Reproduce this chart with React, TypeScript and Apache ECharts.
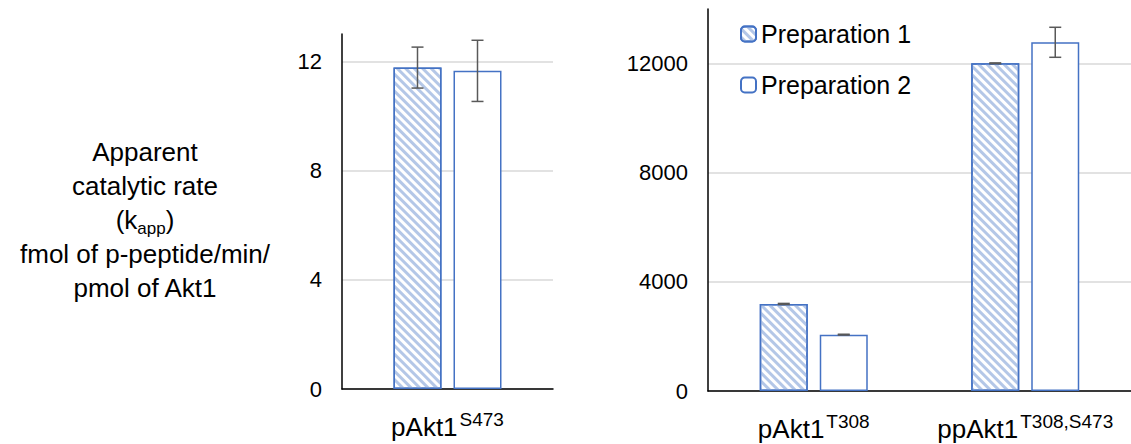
import React, { useEffect, useRef } from "react";
import * as echarts from "echarts";

const seriesNames = ["Preparation 1", "Preparation 2"];

const leftCategories = ["{m|pAkt1}{s|S473}"];
const leftPrep1 = [11.77];
const leftPrep2 = [11.65];
const leftErr1 = [0.75];
const leftErr2 = [1.12];
const leftTicks = [0, 4, 8, 12];

const rightCategories = ["{m|pAkt1}{s|T308}", "{m|ppAkt1}{s|T308,S473}"];
const rightPrep1 = [3190, 12010];
const rightPrep2 = [2065, 12780];
const rightErr1 = [20, 15];
const rightErr2 = [15, 550];
const rightTicks = [0, 4000, 8000, 12000];

const BAR_WIDTH = 48;
const BAR_GAP = 0.25;
const FONT = "Liberation Sans, Arial, sans-serif";
const HATCH = "#b4c7e7";
const EDGE = "#4472c4";

function errorSeries(name: string, means: number[], errs: number[], side: number, axisIdx: number) {
  const data = means.map((m, i) => [i, m, errs[i]]);
  return {
    type: "custom",
    name: name + " err",
    xAxisIndex: axisIdx,
    yAxisIndex: axisIdx,
    silent: true,
    z: 5,
    data,
    renderItem: (params: any, api: any) => {
      const idx = api.value(0);
      const mean = api.value(1);
      const err = api.value(2);
      const off = side * (BAR_WIDTH * (1 + BAR_GAP)) / 2;
      const x = api.coord([idx, mean])[0] + off;
      const yTop = api.coord([idx, mean + err])[1];
      const yBot = api.coord([idx, mean - err])[1];
      const cap = 6;
      const st = { stroke: "#595959", lineWidth: 1.5 };
      return {
        type: "group",
        children: [
          { type: "line", shape: { x1: x, y1: yTop, x2: x, y2: yBot }, style: st },
          { type: "line", shape: { x1: x - cap, y1: yTop, x2: x + cap, y2: yTop }, style: st },
          { type: "line", shape: { x1: x - cap, y1: yBot, x2: x + cap, y2: yBot }, style: st },
        ],
      };
    },
  };
}

const hatchStyle = {
  color: "#ffffff",
  borderColor: EDGE,
  borderWidth: 1.5,
  decal: {
    symbol: "rect",
    symbolSize: 1,
    color: HATCH,
    dashArrayX: [1, 0],
    dashArrayY: [2.2, 2.4],
    rotation: Math.PI / 4,
  },
};
const plainStyle = { color: "#ffffff", borderColor: EDGE, borderWidth: 1.5 };

const richLabel = {
  m: { fontSize: 26, fontFamily: FONT, color: "#000", lineHeight: 30, verticalAlign: "bottom" },
  s: { fontSize: 19, fontFamily: FONT, color: "#000", lineHeight: 19, verticalAlign: "top", padding: [0, 0, 0, 2] },
};

function xAxis(cats: string[], gridIndex: number) {
  return {
    type: "category",
    gridIndex,
    data: cats,
    axisLine: { lineStyle: { color: "#000", width: 1.5 } },
    axisTick: { show: false },
    axisLabel: { margin: 21, rich: richLabel, formatter: (v: string) => v },
  };
}

function yAxis(max: number, interval: number, gridIndex: number) {
  return {
    type: "value",
    gridIndex,
    min: 0,
    max,
    interval,
    axisLine: { show: true, lineStyle: { color: "#000", width: 1.5 } },
    axisTick: { show: false },
    splitLine: { show: true, showMaxLine: false, lineStyle: { color: "#d9d9d9", width: 1.5 } },
    axisLabel: {
      showMaxLabel: false,
      margin: 20,
      fontSize: 22,
      fontFamily: FONT,
      color: "#000",
      formatter: (v: number) => String(v),
    },
  };
}

export default function App() {
  const ref = useRef<HTMLDivElement>(null);
  useEffect(() => {
    document.body.style.margin = "0";
    const chart = echarts.init(ref.current!, null, { renderer: "svg" });
    chart.setOption({
      animation: false,
      textStyle: { fontFamily: FONT },
      grid: [
        { left: 342, top: 34, width: 211, height: 355 },
        { left: 708, top: 9, width: 434, height: 382 },
      ],
      xAxis: [xAxis(leftCategories, 0), xAxis(rightCategories, 1)],
      yAxis: [yAxis(13, leftTicks[1] - leftTicks[0], 0), yAxis(14000, rightTicks[1] - rightTicks[0], 1)],
      legend: {
        data: seriesNames,
        orient: "vertical",
        left: 740,
        top: 19,
        itemWidth: 15,
        itemHeight: 15,
        itemGap: 21,
        padding: 0,
        textStyle: { fontSize: 25, fontFamily: FONT, color: "#000", lineHeight: 30 },
      },
      graphic: [
        {
          type: "text",
          x: 145,
          y: 135,
          style: {
            text: "Apparent\ncatalytic rate\n({k|k}{sub|app})\nfmol of p-peptide/min/\npmol of Akt1",
            align: "center",
            verticalAlign: "top",
            fontSize: 26,
            fontFamily: FONT,
            fill: "#000",
            lineHeight: 34,
            rich: {
              k: { fontSize: 26, fontFamily: FONT, lineHeight: 34 },
              sub: { fontSize: 17, fontFamily: FONT, lineHeight: 34, verticalAlign: "bottom", padding: [10, 0, 0, 0] },
            },
          },
        },
      ],
      series: [
        { type: "bar", name: seriesNames[0], xAxisIndex: 0, yAxisIndex: 0, data: leftPrep1, barWidth: BAR_WIDTH, barGap: "25%", itemStyle: hatchStyle },
        { type: "bar", name: seriesNames[1], xAxisIndex: 0, yAxisIndex: 0, data: leftPrep2, barWidth: BAR_WIDTH, barGap: "25%", itemStyle: plainStyle },
        { type: "bar", name: seriesNames[0], xAxisIndex: 1, yAxisIndex: 1, data: rightPrep1, barWidth: BAR_WIDTH, barGap: "25%", itemStyle: hatchStyle },
        { type: "bar", name: seriesNames[1], xAxisIndex: 1, yAxisIndex: 1, data: rightPrep2, barWidth: BAR_WIDTH, barGap: "25%", itemStyle: plainStyle },
        errorSeries(seriesNames[0], leftPrep1, leftErr1, -1, 0),
        errorSeries(seriesNames[1], leftPrep2, leftErr2, 1, 0),
        errorSeries(seriesNames[0], rightPrep1, rightErr1, -1, 1),
        errorSeries(seriesNames[1], rightPrep2, rightErr2, 1, 1),
      ],
    });
    return () => chart.dispose();
  }, []);
  return <div ref={ref} style={{ width: 1131, height: 444 }} />;
}
